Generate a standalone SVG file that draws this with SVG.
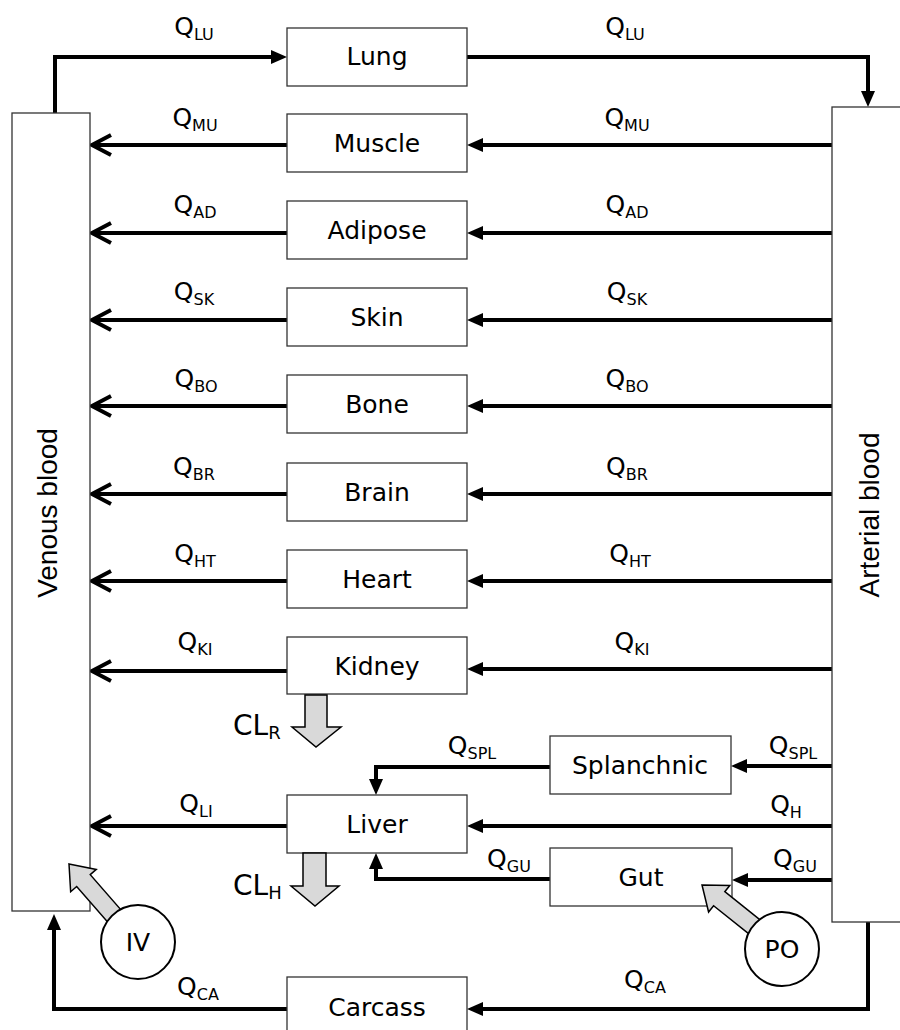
<svg xmlns="http://www.w3.org/2000/svg" width="900" height="1030" viewBox="0 0 900 1030">
<style>
.box{fill:#fff;stroke:#333;stroke-width:1.3}
.lbl{font-family:"DejaVu Sans",Verdana,sans-serif;font-size:25px;fill:#000;text-anchor:middle}
.q{font-family:"DejaVu Sans",Verdana,sans-serif;font-size:25px;fill:#000;text-anchor:middle}
.sub{font-size:16px}
.cl{font-family:"DejaVu Sans",Verdana,sans-serif;font-size:28px;fill:#000}
.cls{font-size:18px}
.side{font-family:"Liberation Sans",Arial,sans-serif;font-size:28px;fill:#000;text-anchor:middle}
.ln{fill:none;stroke:#000;stroke-width:4}
.hd{fill:#000;stroke:none}
.ch{fill:none;stroke:#000;stroke-width:4;stroke-linejoin:miter}
.blk{fill:#d9d9d9;stroke:#000;stroke-width:1.5;stroke-linejoin:miter}
.circ{fill:#fff;stroke:#000;stroke-width:2}
</style>
<rect width="900" height="1030" fill="#fff"/>

<g id="connectors">
  <polyline class="ln" points="55,113 55,57 272,57"/>
  <polygon class="hd" points="271,50 287,57 271,64"/>
  <polyline class="ln" points="467,57 868,57 868,92"/>
  <polygon class="hd" points="861,91 868,107 875,91"/>
  <g>
    <line class="ln" x1="832" y1="145" x2="482" y2="145"/><polygon class="hd" points="483,138 467,145 483,152"/>
    <line class="ln" x1="287" y1="145" x2="93" y2="145"/><polyline class="ch" points="111,135 92,145 111,155"/>

    <line class="ln" x1="832" y1="233" x2="482" y2="233"/><polygon class="hd" points="483,226 467,233 483,240"/>
    <line class="ln" x1="287" y1="233" x2="93" y2="233"/><polyline class="ch" points="111,223 92,233 111,243"/>

    <line class="ln" x1="832" y1="320" x2="482" y2="320"/><polygon class="hd" points="483,313 467,320 483,327"/>
    <line class="ln" x1="287" y1="320" x2="93" y2="320"/><polyline class="ch" points="111,310 92,320 111,330"/>

    <line class="ln" x1="832" y1="406" x2="482" y2="406"/><polygon class="hd" points="483,399 467,406 483,413"/>
    <line class="ln" x1="287" y1="406" x2="93" y2="406"/><polyline class="ch" points="111,396 92,406 111,416"/>

    <line class="ln" x1="832" y1="494" x2="482" y2="494"/><polygon class="hd" points="483,487 467,494 483,501"/>
    <line class="ln" x1="287" y1="494" x2="93" y2="494"/><polyline class="ch" points="111,484 92,494 111,504"/>

    <line class="ln" x1="832" y1="581" x2="482" y2="581"/><polygon class="hd" points="483,574 467,581 483,588"/>
    <line class="ln" x1="287" y1="581" x2="93" y2="581"/><polyline class="ch" points="111,571 92,581 111,591"/>

    <line class="ln" x1="832" y1="669" x2="482" y2="669"/><polygon class="hd" points="483,662 467,669 483,676"/>
    <line class="ln" x1="287" y1="671" x2="93" y2="671"/><polyline class="ch" points="111,661 92,671 111,681"/>

    <line class="ln" x1="832" y1="826" x2="482" y2="826"/><polygon class="hd" points="483,819 467,826 483,833"/>
    <line class="ln" x1="287" y1="826" x2="93" y2="826"/><polyline class="ch" points="111,816 92,826 111,836"/>
  </g>
  <line class="ln" x1="832" y1="766" x2="746" y2="766"/><polygon class="hd" points="747,759 731,766 747,773"/>
  <polyline class="ln" points="550,767 376,767 376,780"/><polygon class="hd" points="369,779 376,795 383,779"/>
  <line class="ln" x1="832" y1="880" x2="747" y2="880"/><polygon class="hd" points="748,873 732,880 748,887"/>
  <polyline class="ln" points="550,879 376,879 376,868"/><polygon class="hd" points="369,869 376,853 383,869"/>
  <polyline class="ln" points="868,922 868,1009 482,1009"/><polygon class="hd" points="483,1002 467,1009 483,1016"/>
  <polyline class="ln" points="287,1009 54,1009 54,929"/><polygon class="hd" points="47,930 54,914 61,930"/>
</g>

<g id="venous">
  <rect class="box" x="12" y="113" width="78" height="798"/>
  <text class="side" transform="translate(57,513) rotate(-90)">Venous blood</text>
</g>
<g id="arterial">
  <rect class="box" x="832" y="107" width="90" height="815"/>
  <text class="side" transform="translate(879,515) rotate(-90)">Arterial blood</text>
</g>

<g id="lung"><rect class="box" x="287" y="28" width="180" height="58"/><text class="lbl" x="377" y="65">Lung</text></g>
<g id="muscle"><rect class="box" x="287" y="114" width="180" height="58"/><text class="lbl" x="377" y="152">Muscle</text></g>
<g id="adipose"><rect class="box" x="287" y="201" width="180" height="58"/><text class="lbl" x="377" y="239">Adipose</text></g>
<g id="skin"><rect class="box" x="287" y="288" width="180" height="58"/><text class="lbl" x="377" y="326">Skin</text></g>
<g id="bone"><rect class="box" x="287" y="375" width="180" height="58"/><text class="lbl" x="377" y="413">Bone</text></g>
<g id="brain"><rect class="box" x="287" y="463" width="180" height="58"/><text class="lbl" x="377" y="501">Brain</text></g>
<g id="heart"><rect class="box" x="287" y="550" width="180" height="58"/><text class="lbl" x="377" y="588">Heart</text></g>
<g id="kidney"><rect class="box" x="287" y="637" width="180" height="57"/><text class="lbl" x="377" y="675">Kidney</text></g>
<g id="splanchnic"><rect class="box" x="550" y="736" width="181" height="58"/><text class="lbl" x="640" y="774">Splanchnic</text></g>
<g id="liver"><rect class="box" x="287" y="795" width="180" height="58"/><text class="lbl" x="377" y="833">Liver</text></g>
<g id="gut"><rect class="box" x="550" y="848" width="182" height="58"/><text class="lbl" x="641" y="886">Gut</text></g>
<g id="carcass"><rect class="box" x="287" y="977" width="180" height="70"/><text class="lbl" x="377" y="1016">Carcass</text></g>

<g id="clr">
  <polygon class="blk" points="305,695 305,727 292,727 316,747 341,727 327,727 327,695"/>
  <text class="cl" x="233" y="735">CL<tspan class="cls" dy="4">R</tspan></text>
</g>
<g id="clh">
  <polygon class="blk" points="303,853 303,886 291,886 315,906 339,886 326,886 326,853"/>
  <text class="cl" x="233" y="895">CL<tspan class="cls" dy="4">H</tspan></text>
</g>

<g id="iv">
  <path class="blk" transform="translate(69,864) rotate(48.9)" d="M0,0 L22,-17 L22,-9 L80,-9 L80,9 L22,9 L22,17 Z"/>
  <circle class="circ" cx="138" cy="942" r="37"/>
  <text class="lbl" x="138" y="951">IV</text>
</g>
<g id="po">
  <path class="blk" transform="translate(702,885) rotate(38.6)" d="M0,0 L22,-17 L22,-9 L80,-9 L80,9 L22,9 L22,17 Z"/>
  <circle class="circ" cx="782" cy="949" r="37"/>
  <text class="lbl" x="782" y="958">PO</text>
</g>

<g id="labels">
  <text class="q" x="194" y="35">Q<tspan class="sub" dy="5">LU</tspan></text>
  <text class="q" x="625" y="35">Q<tspan class="sub" dy="5">LU</tspan></text>
  <text class="q" x="195" y="126">Q<tspan class="sub" dy="5">MU</tspan></text>
  <text class="q" x="627" y="126">Q<tspan class="sub" dy="5">MU</tspan></text>
  <text class="q" x="195" y="213">Q<tspan class="sub" dy="5">AD</tspan></text>
  <text class="q" x="627" y="213">Q<tspan class="sub" dy="5">AD</tspan></text>
  <text class="q" x="194" y="300">Q<tspan class="sub" dy="5">SK</tspan></text>
  <text class="q" x="627" y="300">Q<tspan class="sub" dy="5">SK</tspan></text>
  <text class="q" x="196" y="387">Q<tspan class="sub" dy="5">BO</tspan></text>
  <text class="q" x="627" y="387">Q<tspan class="sub" dy="5">BO</tspan></text>
  <text class="q" x="194" y="475">Q<tspan class="sub" dy="5">BR</tspan></text>
  <text class="q" x="627" y="475">Q<tspan class="sub" dy="5">BR</tspan></text>
  <text class="q" x="195" y="562">Q<tspan class="sub" dy="5">HT</tspan></text>
  <text class="q" x="630" y="562">Q<tspan class="sub" dy="5">HT</tspan></text>
  <text class="q" x="195" y="650">Q<tspan class="sub" dy="5">KI</tspan></text>
  <text class="q" x="632" y="650">Q<tspan class="sub" dy="5">KI</tspan></text>
  <text class="q" x="472" y="754">Q<tspan class="sub" dy="5">SPL</tspan></text>
  <text class="q" x="793" y="754">Q<tspan class="sub" dy="5">SPL</tspan></text>
  <text class="q" x="196" y="812">Q<tspan class="sub" dy="5">LI</tspan></text>
  <text class="q" x="786" y="813">Q<tspan class="sub" dy="5">H</tspan></text>
  <text class="q" x="509" y="867">Q<tspan class="sub" dy="5">GU</tspan></text>
  <text class="q" x="795" y="867">Q<tspan class="sub" dy="5">GU</tspan></text>
  <text class="q" x="198" y="995">Q<tspan class="sub" dy="5">CA</tspan></text>
  <text class="q" x="645" y="988">Q<tspan class="sub" dy="5">CA</tspan></text>
</g>
</svg>
